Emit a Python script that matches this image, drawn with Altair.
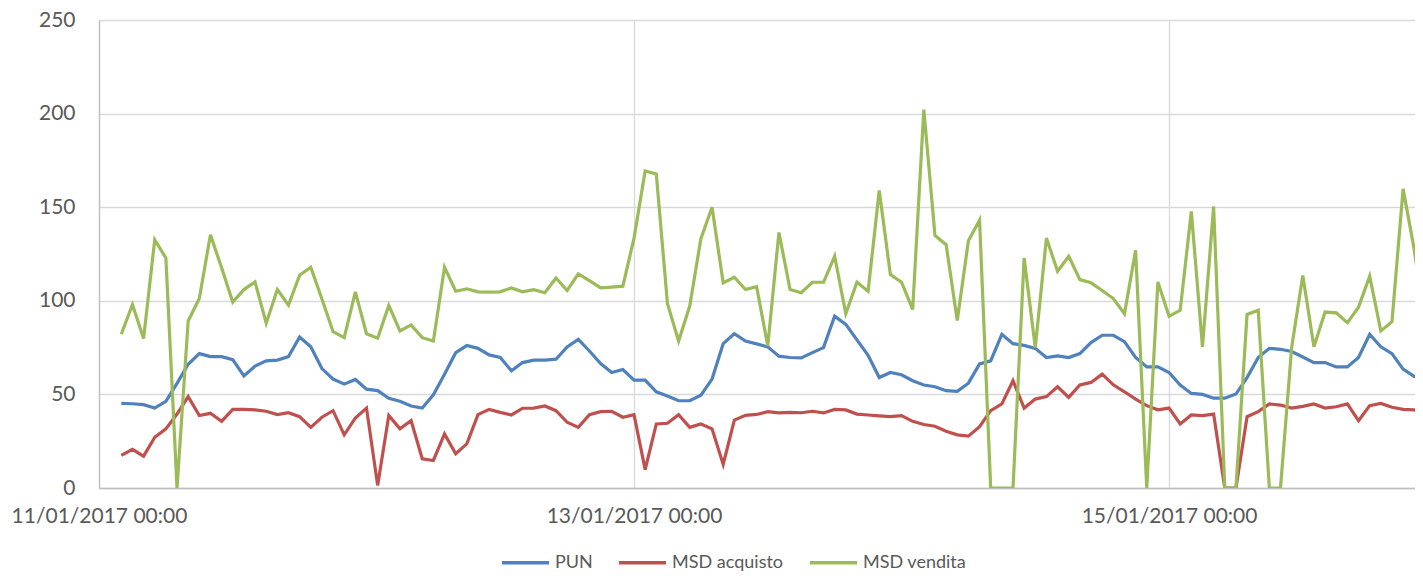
import altair as alt
import pandas as pd

# hourly data, first point 11/01/2017 02:00
start_time = "2017-01-11 02:00"

pun = [45.2, 45.0, 44.5, 42.7, 46.3, 55.9, 66.1, 71.8, 70.2, 70.2,
       68.6, 59.9, 65.1, 67.9, 68.3, 70.2, 80.7, 75.4, 63.8, 58.2,
       55.5, 58.0, 52.8, 52.0, 47.9, 46.3, 43.8, 42.7, 49.8, 60.8,
       72.3, 76.1, 74.6, 71.1, 69.7, 62.6, 67.0, 68.3, 68.3, 68.8,
       75.4, 79.4, 73.2, 66.5, 61.7, 63.3, 57.6, 57.6, 51.4, 49.1,
       46.6, 46.6, 49.6, 58.2, 77.1, 82.4, 78.5, 77.0, 75.4, 70.4,
       69.7, 69.5, 72.3, 75.0, 91.8, 87.4, 79.1, 70.9, 59.0, 61.7,
       60.5, 57.3, 55.0, 54.1, 52.0, 51.6, 56.0, 66.3, 67.9, 82.1,
       77.1, 76.2, 74.6, 69.7, 70.6, 69.7, 71.8, 77.7, 81.6, 81.6,
       78.2, 69.7, 64.7, 64.7, 61.7, 55.0, 50.5, 50.0, 48.0, 48.0,
       50.2, 59.0, 69.7, 74.6, 74.1, 72.9, 70.0, 67.0, 67.0, 64.7,
       64.7, 69.7, 82.1, 75.4, 71.8, 63.5, 59.6, 61.2]

msd_acquisto = [17.4, 20.6, 17.0, 27.1, 31.6, 39.5, 48.8, 38.7, 39.9, 35.6,
                42.0, 42.0, 41.7, 41.0, 39.2, 40.2, 38.1, 32.4, 37.8, 41.3,
                28.4, 37.4, 42.7, 1.4, 38.7, 31.6, 36.0, 15.6, 14.7, 28.9,
                18.3, 23.6, 39.2, 42.0, 40.4, 39.0, 42.6, 42.7, 43.8, 41.3,
                35.1, 32.4, 39.2, 40.8, 41.0, 37.8, 39.2, 9.8, 34.2, 34.6,
                39.2, 32.4, 34.2, 31.6, 12.6, 36.3, 38.8, 39.3, 40.8, 40.1,
                40.4, 40.2, 41.0, 40.1, 42.0, 41.7, 39.5, 39.0, 38.5, 38.1,
                38.7, 35.6, 33.9, 33.0, 30.3, 28.4, 27.7, 32.8, 41.3, 44.9,
                57.3, 42.7, 47.5, 48.8, 54.1, 48.4, 55.1, 56.4, 60.8, 55.1,
                51.4, 47.5, 44.0, 41.8, 42.7, 34.2, 39.0, 38.7, 39.5, 0.0,
                0.0, 38.1, 40.8, 44.9, 44.3, 42.7, 43.6, 44.9, 42.7, 43.4,
                44.9, 36.0, 44.0, 45.2, 43.1, 42.0, 41.7, 40.4]

msd_vendita = [82.1, 98.0, 79.8, 132.6, 122.9, 0.0, 89.2, 101.2, 135.3, 117.6,
               99.3, 106.0, 110.1, 88.0, 106.0, 97.7, 113.7, 117.9, 101.0, 83.5,
               80.3, 104.8, 82.4, 80.0, 97.5, 83.9, 87.1, 80.3, 78.5, 117.9,
               105.1, 106.4, 104.8, 104.6, 104.8, 106.9, 104.8, 105.9, 104.3, 112.2,
               105.5, 114.4, 110.8, 106.9, 107.3, 107.8, 133.5, 169.3, 167.7, 98.4,
               78.5, 97.2, 133.2, 150.0, 109.6, 112.6, 106.0, 107.5, 75.9, 136.5,
               106.0, 104.3, 109.9, 109.9, 123.8, 93.1, 109.9, 105.1, 158.9, 114.0,
               109.9, 95.4, 202.1, 134.9, 130.0, 89.5, 132.1, 143.1, 0.0, 0.0,
               0.0, 122.9, 75.0, 133.5, 115.8, 123.8, 111.3, 109.6, 105.5, 101.2,
               93.1, 127.0, 0.0, 110.1, 91.8, 94.9, 147.7, 75.4, 150.4, 0.0,
               0.0, 92.7, 94.9, 0.0, 0.0, 75.0, 113.5, 75.4, 94.0, 93.6,
               88.3, 96.6, 113.1, 83.9, 88.8, 159.8, 127.3, 86.0]

series_names = ["PUN", "MSD acquisto", "MSD vendita"]
series_colors = ["#4F81BD", "#C0504D", "#9BBB59"]
y_ticks = [0, 50, 100, 150, 200, 250]

times = pd.date_range(start_time, periods=len(pun), freq="h")
frames = []
for name, vals in zip(series_names, [pun, msd_acquisto, msd_vendita]):
    frames.append(pd.DataFrame({"time": times, "value": vals, "series": name}))
df = pd.concat(frames, ignore_index=True)

FONT = "Lato"
TXT = "#595959"

x_ticks = [alt.DateTime(year=2017, month=1, date=d, hours=0) for d in (11, 13, 15)]

chart = alt.Chart(df).mark_line(strokeWidth=3.2, clip=True).encode(
    x=alt.X(
        "time:T",
        scale=alt.Scale(domain=[alt.DateTime(year=2017, month=1, date=11, hours=0),
                                alt.DateTime(year=2017, month=1, date=15, hours=22, minutes=4)]),
        axis=alt.Axis(values=x_ticks, format="%d/%m/%Y %H:%M", labelFlush=False,
                      labelOverlap=False, labelBound=False, grid=True, ticks=False,
                      labelPadding=17, title=None),
    ),
    y=alt.Y(
        "value:Q",
        scale=alt.Scale(domain=[0, 250], nice=False),
        axis=alt.Axis(values=y_ticks, ticks=False, labelPadding=24, title=None),
    ),
    color=alt.Color(
        "series:N",
        sort=series_names,
        scale=alt.Scale(domain=series_names, range=series_colors),
        legend=alt.Legend(orient="none", legendX=401, legendY=517, direction="horizontal",
                          title=None, symbolType="stroke", symbolSize=2209,
                          symbolStrokeWidth=3.5, labelFontSize=18, labelColor=TXT,
                          labelFont=FONT, columnPadding=19, labelOffset=4, padding=0),
    ),
    order=alt.Order("series_order:Q"),
).transform_calculate(
    series_order="indexof(['PUN','MSD acquisto','MSD vendita'], datum.series)"
).properties(
    width=1316, height=468,
    autosize=alt.AutoSizeParams(type="none"),
    padding={"left": 91, "top": 12, "right": 0, "bottom": 88},
).configure_view(stroke=None).configure_axis(
    labelFont=FONT, labelFontSize=21, labelColor=TXT,
    gridColor="#d9d9d9", gridWidth=1.3,
    domainColor="#bfbfbf", domainWidth=1.3,
)

chart.save("out.html", embed_options={"renderer": "svg", "actions": False})
